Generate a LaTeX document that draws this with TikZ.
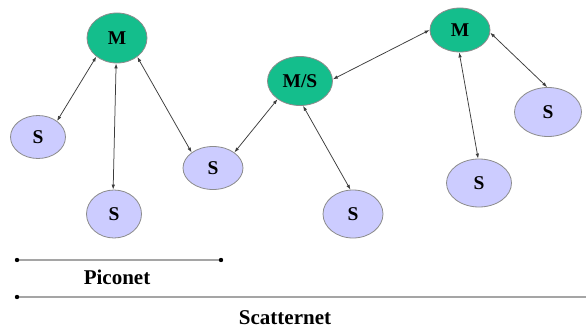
\documentclass[tikz,border=0pt]{standalone}
\usepackage{fontspec}
\setmainfont{Liberation Serif}
\usetikzlibrary{shapes.geometric,arrows.meta}
\definecolor{mgreen}{RGB}{20,190,140}
\definecolor{slav}{RGB}{204,204,255}
\definecolor{rim}{RGB}{140,140,140}
\definecolor{link}{RGB}{60,60,60}
\definecolor{rule}{RGB}{165,165,165}
\tikzset{
  base/.style={ellipse,draw=rim,line width=0.8pt,inner sep=0pt,
    font=\fontsize{19.5}{22}\selectfont\bfseries},
  master/.style={base,fill=mgreen},
  slave/.style={base,fill=slav},
  lnk/.style={draw=link,line width=0.75pt,{Latex[length=5pt,width=3.5pt]}-{Latex[length=5pt,width=3.5pt]}},
  ruler/.style={draw=rule,line width=1.8pt},
  lbl/.style={font=\fontsize{21}{24}\selectfont\bfseries,inner sep=0pt}
}
\begin{document}
\begin{tikzpicture}[x=1pt,y=-1pt]
\useasboundingbox[fill=white] (0,0) rectangle (586,329);
% nodes
\node[master,minimum width=60pt,minimum height=50pt] (m1) at (117,38) {M};
\node[slave,minimum width=55pt,minimum height=43pt] (s1) at (38,137) {S};
\node[slave,minimum width=55pt,minimum height=48pt] (s2) at (114,214) {S};
\node[slave,minimum width=60pt,minimum height=43pt] (s3) at (213,168) {S};
\node[master,minimum width=65pt,minimum height=49pt] (ms) at (300,81) {M/S};
\node[slave,minimum width=60pt,minimum height=48pt] (s4) at (353,214) {S};
\node[master,minimum width=60pt,minimum height=44pt] (m2) at (460,30) {M};
\node[slave,minimum width=65pt,minimum height=48pt] (s5) at (479,183) {S};
\node[slave,minimum width=67pt,minimum height=49pt] (s6) at (548,112) {S};
% links
\draw[lnk] (m1.-138) -- (s1.40);
\draw[lnk] (m1.-92) -- (s2.92);
\draw[lnk] (m1.-43) -- (s3.144);
\draw[lnk] (s3.36) -- (ms.-141);
\draw[lnk] (ms.-83) -- (s4.96);
\draw[lnk] (ms.3) -- (m2.180);
\draw[lnk] (m2.-92) -- (s5.92);
\draw[lnk] (m2.-5) -- (s6.92);
% rulers
\coordinate (pa) at (17,260);
\coordinate (pb) at (221,260);
\coordinate (sa) at (17,297);
\coordinate (sb) at (586,297);
\draw[ruler] (pa) -- (pb);
\draw[ruler] (sa) -- (sb);
\fill (pa) circle (2.2pt);
\fill (pb) circle (2.2pt);
\fill (sa) circle (2.2pt);
\node[lbl] (pic) at (117,277) {Piconet};
\node[lbl] (sca) at (285,318) {Scatternet};
\end{tikzpicture}
\end{document}
